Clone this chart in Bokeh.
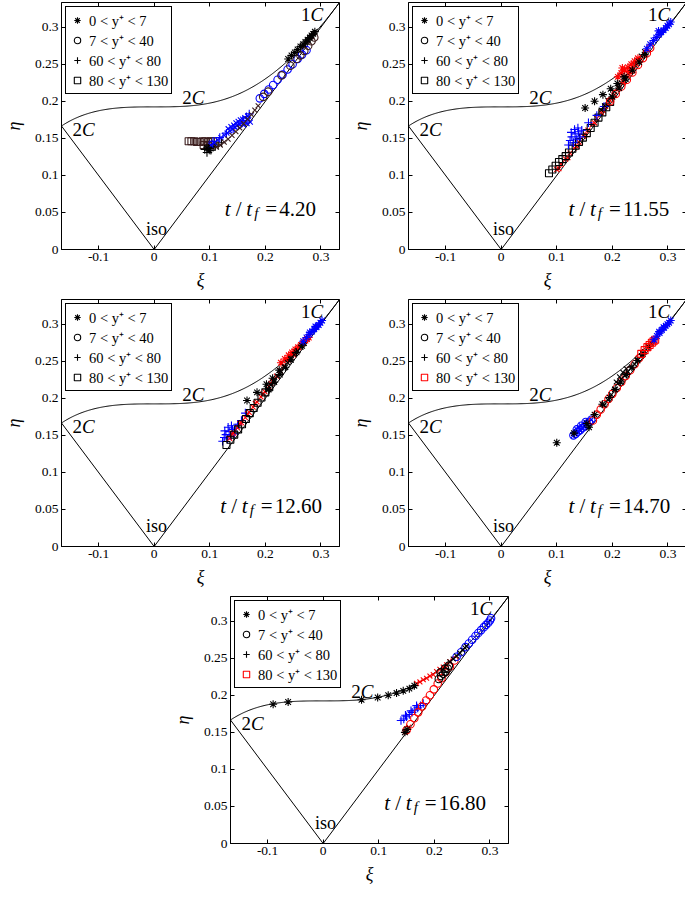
import numpy as np
from bokeh.plotting import figure
from bokeh.layouts import column, row
from bokeh.models import (Range1d, FixedTicker, CustomJSTickFormatter, LinearAxis, Label,
                          Legend, LegendItem, Spacer)
from bokeh.embed import file_html
from bokeh.resources import INLINE

FONT = "Liberation Serif"
BLUE, RED, BLACK, BROWN = "#0000ff", "#ff0000", "#000000", "#3c1e1e"

# ---------------- axes / labels ----------------
x_ticks = [-0.1, 0, 0.1, 0.2, 0.3]
y_ticks = [0, 0.05, 0.1, 0.15, 0.2, 0.25, 0.3]
legend_labels = ["0 < y⁺ < 7", "7 < y⁺ < 40", "60 < y⁺ < 80", "80 < y⁺ < 130"]
time_labels = ["4.20", "11.55", "12.60", "14.70", "16.80"]

# Lumley triangle boundaries (axisymmetric lines and two-component curve)
axi_xi = [-1/6, 0.0, 1/3]
axi_eta = [1/6, 0.0, 1/3]
curve_xi = np.linspace(-1/6, 1/3, 300)
curve_eta = np.sqrt(1/27 + 2 * curve_xi**3)

# ---------------- panel 1 : t/tf = 4.20 ----------------
p1_sq_xi = [0.062, 0.067, 0.072, 0.077, 0.082, 0.087, 0.092, 0.097, 0.102, 0.106, 0.089, 0.096, 0.101]
p1_sq_eta = [0.146, 0.146, 0.146, 0.145, 0.145, 0.146, 0.146, 0.145, 0.146, 0.146, 0.141, 0.140, 0.141]
p1_pk_xi = [0.091, 0.095, 0.098, 0.102, 0.106, 0.110, 0.115, 0.121]
p1_pk_eta = [0.135, 0.131, 0.137, 0.134, 0.138, 0.139, 0.141, 0.144]
p1_xb_xi = [0.102, 0.108, 0.114, 0.120, 0.126, 0.131, 0.136, 0.141, 0.145, 0.149, 0.153, 0.157, 0.161, 0.164, 0.167, 0.170, 0.173,
            0.133, 0.138, 0.143, 0.147, 0.151, 0.155, 0.159, 0.163, 0.168]
p1_xb_eta = [0.141, 0.144, 0.148, 0.151, 0.154, 0.157, 0.160, 0.162, 0.165, 0.167, 0.169, 0.171, 0.168, 0.173, 0.170, 0.175, 0.172,
             0.163, 0.166, 0.168, 0.171, 0.173, 0.175, 0.176, 0.178, 0.180]
p1_pb_xi = [0.106, 0.118, 0.130, 0.142, 0.152, 0.160, 0.166, 0.171]
p1_pb_eta = [0.146, 0.151, 0.157, 0.163, 0.168, 0.174, 0.179, 0.183]
p1_xk_xi = [0.112, 0.119, 0.126, 0.133, 0.140, 0.147, 0.154, 0.161, 0.168, 0.175, 0.181, 0.187, 0.270, 0.277, 0.284]
p1_xk_eta = [0.138, 0.141, 0.145, 0.149, 0.154, 0.159, 0.164, 0.170, 0.176, 0.182, 0.188, 0.194, 0.275, 0.281, 0.287]
p1_cb_xi = [0.190, 0.198, 0.206, 0.214, 0.222, 0.231, 0.240, 0.249, 0.258, 0.266, 0.274]
p1_cb_eta = [0.204, 0.210, 0.216, 0.222, 0.229, 0.236, 0.243, 0.250, 0.257, 0.263, 0.269]
p1_ck_xi = [0.196, 0.205, 0.229, 0.245, 0.256, 0.263, 0.270, 0.277, 0.283, 0.288]
p1_ck_eta = [0.206, 0.213, 0.235, 0.248, 0.257, 0.262, 0.268, 0.275, 0.281, 0.286]
p1_st_xi = [0.095, 0.099, 0.241, 0.247, 0.253, 0.258, 0.263, 0.268, 0.272, 0.276, 0.280, 0.283, 0.286, 0.289]
p1_st_eta = [0.137, 0.134, 0.257, 0.262, 0.266, 0.270, 0.274, 0.277, 0.280, 0.283, 0.286, 0.289, 0.291, 0.294]

# ---------------- panel 2 : t/tf = 11.55 ----------------
p2_xr_xi = [0.100, 0.108, 0.116, 0.124, 0.132, 0.140, 0.148, 0.156, 0.164, 0.172, 0.180, 0.188, 0.196, 0.204, 0.212, 0.220, 0.228, 0.236, 0.244, 0.252, 0.260,
            0.104, 0.120, 0.136, 0.152, 0.168, 0.184]
p2_xr_eta = [0.108, 0.115, 0.122, 0.130, 0.137, 0.145, 0.153, 0.161, 0.169, 0.177, 0.185, 0.193, 0.201, 0.209, 0.217, 0.225, 0.233, 0.241, 0.249, 0.257, 0.265,
             0.109, 0.124, 0.139, 0.155, 0.171, 0.187]
p2_sq_xi = [0.086, 0.092, 0.098, 0.104, 0.110, 0.116, 0.122, 0.128, 0.134, 0.140, 0.147, 0.154, 0.161, 0.168, 0.175, 0.182, 0.189, 0.196]
p2_sq_eta = [0.103, 0.108, 0.113, 0.118, 0.122, 0.126, 0.131, 0.136, 0.140, 0.145, 0.151, 0.157, 0.164, 0.171, 0.178, 0.185, 0.192, 0.199]
p2_pb_xi = [0.121, 0.124, 0.127, 0.130, 0.133, 0.136, 0.139, 0.142, 0.145, 0.126, 0.132, 0.138, 0.157, 0.172, 0.185]
p2_pb_eta = [0.141, 0.147, 0.152, 0.144, 0.156, 0.149, 0.159, 0.152, 0.161, 0.158, 0.162, 0.164, 0.171, 0.181, 0.193]
p2_xk_xi = [0.180, 0.186, 0.192, 0.198, 0.204, 0.210, 0.216, 0.222, 0.228, 0.234, 0.240, 0.246, 0.252, 0.258]
p2_xk_eta = [0.188, 0.194, 0.201, 0.207, 0.213, 0.219, 0.225, 0.231, 0.237, 0.243, 0.249, 0.255, 0.261, 0.267]
p2_cr_xi = [0.196, 0.206, 0.216, 0.226, 0.236, 0.246, 0.255, 0.262, 0.268]
p2_cr_eta = [0.200, 0.210, 0.220, 0.229, 0.239, 0.249, 0.258, 0.265, 0.272]
p2_sr_xi = [0.210, 0.216, 0.222, 0.228, 0.234, 0.240, 0.246, 0.218, 0.231]
p2_sr_eta = [0.233, 0.238, 0.242, 0.246, 0.250, 0.254, 0.258, 0.245, 0.240]
p2_sk_xi = [0.151, 0.168, 0.183, 0.197, 0.209, 0.221, 0.200, 0.212, 0.224, 0.236, 0.248, 0.258]
p2_sk_eta = [0.191, 0.200, 0.209, 0.217, 0.224, 0.233, 0.206, 0.218, 0.230, 0.242, 0.253, 0.263]
p2_sb_xi = [0.262, 0.268, 0.274, 0.279, 0.284, 0.288, 0.292, 0.296, 0.299, 0.302, 0.305, 0.283]
p2_sb_eta = [0.271, 0.277, 0.282, 0.286, 0.290, 0.293, 0.296, 0.299, 0.302, 0.304, 0.307, 0.295]

# ---------------- panel 3 : t/tf = 12.60 ----------------
p3_pb_xi = [0.123, 0.126, 0.129, 0.132, 0.135, 0.138, 0.141, 0.144, 0.147, 0.127, 0.133, 0.139, 0.150, 0.157, 0.164]
p3_pb_eta = [0.142, 0.147, 0.151, 0.145, 0.155, 0.149, 0.158, 0.152, 0.160, 0.156, 0.161, 0.163, 0.165, 0.170, 0.180]
p3_xr_xi = [0.136, 0.143, 0.150, 0.157, 0.164, 0.171, 0.178, 0.185, 0.192, 0.199, 0.206, 0.213, 0.220, 0.227, 0.234,
            0.140, 0.154, 0.168, 0.182, 0.196, 0.210]
p3_xr_eta = [0.146, 0.153, 0.160, 0.167, 0.174, 0.181, 0.188, 0.195, 0.202, 0.209, 0.216, 0.223, 0.230, 0.237, 0.244,
             0.152, 0.166, 0.179, 0.193, 0.206, 0.220]
p3_sq_xi = [0.130, 0.137, 0.144, 0.151, 0.158, 0.165, 0.172, 0.179, 0.186, 0.193, 0.200, 0.207]
p3_sq_eta = [0.137, 0.144, 0.151, 0.158, 0.165, 0.172, 0.180, 0.187, 0.194, 0.201, 0.208, 0.215]
p3_sr_xi = [0.228, 0.235, 0.242, 0.248, 0.254, 0.259, 0.264, 0.268, 0.272, 0.275, 0.278, 0.240, 0.250]
p3_sr_eta = [0.248, 0.253, 0.258, 0.262, 0.266, 0.269, 0.272, 0.275, 0.278, 0.280, 0.282, 0.252, 0.259]
p3_xk_xi = [0.204, 0.210, 0.216, 0.222, 0.228, 0.234, 0.240, 0.246, 0.252, 0.258, 0.264, 0.270]
p3_xk_eta = [0.212, 0.218, 0.224, 0.230, 0.236, 0.242, 0.248, 0.254, 0.259, 0.264, 0.269, 0.274]
p3_sk_xi = [0.167, 0.185, 0.202, 0.213, 0.225, 0.206, 0.216, 0.226, 0.236, 0.246, 0.256, 0.266]
p3_sk_eta = [0.197, 0.208, 0.219, 0.227, 0.238, 0.212, 0.222, 0.232, 0.242, 0.252, 0.262, 0.271]
p3_sb_xi = [0.268, 0.274, 0.279, 0.284, 0.288, 0.292, 0.296, 0.299, 0.302, 0.280, 0.290]
p3_sb_eta = [0.277, 0.282, 0.286, 0.290, 0.293, 0.296, 0.299, 0.302, 0.305, 0.289, 0.297]

# ---------------- panel 4 : t/tf = 14.70 ----------------
p4_cb_xi = [0.130, 0.134, 0.138, 0.142, 0.146, 0.150, 0.154, 0.158, 0.162, 0.136, 0.144, 0.152]
p4_cb_eta = [0.150, 0.152, 0.155, 0.157, 0.160, 0.162, 0.165, 0.168, 0.171, 0.158, 0.163, 0.168]
p4_cr_xi = [0.165, 0.172, 0.179, 0.186, 0.193, 0.200, 0.208, 0.216, 0.224, 0.232, 0.240, 0.248]
p4_cr_eta = [0.170, 0.178, 0.185, 0.192, 0.199, 0.206, 0.214, 0.222, 0.230, 0.238, 0.246, 0.254]
p4_xk_xi = [0.185, 0.192, 0.198, 0.204, 0.210, 0.216, 0.222, 0.228, 0.234, 0.240, 0.246, 0.252, 0.258, 0.264, 0.270,
            0.207, 0.213, 0.219, 0.225]
p4_xk_eta = [0.191, 0.198, 0.205, 0.212, 0.220, 0.226, 0.231, 0.236, 0.241, 0.246, 0.252, 0.257, 0.263, 0.269, 0.274,
             0.222, 0.229, 0.235, 0.240]
p4_sk_xi = [0.100, 0.131, 0.154, 0.158, 0.168, 0.182, 0.195, 0.205, 0.215, 0.225, 0.235, 0.245, 0.255, 0.265]
p4_sk_eta = [0.140, 0.153, 0.166, 0.161, 0.178, 0.192, 0.201, 0.212, 0.222, 0.232, 0.242, 0.251, 0.260, 0.270]
p4_qr_xi = [0.252, 0.258, 0.263, 0.267, 0.271, 0.274, 0.277]
p4_qr_eta = [0.260, 0.265, 0.269, 0.272, 0.275, 0.277, 0.279]
p4_sb_xi = [0.275, 0.280, 0.285, 0.289, 0.293, 0.296, 0.299, 0.302, 0.305, 0.284, 0.292]
p4_sb_eta = [0.279, 0.284, 0.288, 0.292, 0.295, 0.298, 0.300, 0.302, 0.305, 0.290, 0.296]

# ---------------- panel 5 : t/tf = 16.80 ----------------
p5_pb_xi = [0.140, 0.145, 0.150, 0.155, 0.160, 0.165, 0.170, 0.175, 0.180, 0.148, 0.158, 0.168]
p5_pb_eta = [0.166, 0.168, 0.171, 0.174, 0.177, 0.180, 0.183, 0.186, 0.189, 0.173, 0.179, 0.186]
p5_cr_xi = [0.150, 0.157, 0.164, 0.171, 0.178, 0.185, 0.192, 0.199, 0.206, 0.213, 0.220, 0.228, 0.236]
p5_cr_eta = [0.153, 0.161, 0.169, 0.177, 0.185, 0.193, 0.200, 0.208, 0.216, 0.223, 0.231, 0.239, 0.247]
p5_cb_xi = [0.240, 0.248, 0.256, 0.262, 0.268, 0.274, 0.279, 0.284, 0.289, 0.293, 0.297, 0.300, 0.302]
p5_cb_eta = [0.252, 0.258, 0.265, 0.270, 0.275, 0.280, 0.284, 0.288, 0.292, 0.295, 0.298, 0.301, 0.304]
p5_xr_xi = [0.148, 0.154, 0.168, 0.174, 0.180, 0.186, 0.192, 0.198, 0.204, 0.210, 0.216, 0.222, 0.228]
p5_xr_eta = [0.151, 0.157, 0.216, 0.218, 0.221, 0.223, 0.226, 0.228, 0.232, 0.235, 0.238, 0.241, 0.245]
p5_xk_xi = [0.228, 0.234, 0.240, 0.246, 0.251, 0.255, 0.258]
p5_xk_eta = [0.245, 0.249, 0.253, 0.257, 0.261, 0.264, 0.266]
p5_ck_xi = [0.208, 0.212, 0.216, 0.220, 0.224, 0.211, 0.219, 0.226]
p5_ck_eta = [0.222, 0.226, 0.229, 0.232, 0.236, 0.231, 0.236, 0.240]
p5_sk_xi = [-0.090, -0.063, 0.069, 0.098, 0.117, 0.132, 0.144, 0.155, 0.164, 0.147, 0.151]
p5_sk_eta = [0.188, 0.191, 0.194, 0.197, 0.200, 0.203, 0.206, 0.209, 0.213, 0.150, 0.154]

panels = [
    [(p1_sq_xi, p1_sq_eta, "square", BROWN), (p1_pk_xi, p1_pk_eta, "cross", BLACK),
     (p1_xb_xi, p1_xb_eta, "x", BLUE), (p1_pb_xi, p1_pb_eta, "cross", BLUE),
     (p1_xk_xi, p1_xk_eta, "x", BROWN), (p1_cb_xi, p1_cb_eta, "circle", BLUE),
     (p1_ck_xi, p1_ck_eta, "circle", BROWN), (p1_st_xi, p1_st_eta, "asterisk", BLACK)],
    [(p2_xr_xi, p2_xr_eta, "x", RED), (p2_sq_xi, p2_sq_eta, "square", BLACK),
     (p2_pb_xi, p2_pb_eta, "cross", BLUE), (p2_xk_xi, p2_xk_eta, "x", BLACK),
     (p2_cr_xi, p2_cr_eta, "circle", RED), (p2_sr_xi, p2_sr_eta, "asterisk", RED),
     (p2_sk_xi, p2_sk_eta, "asterisk", BLACK), (p2_sb_xi, p2_sb_eta, "asterisk", BLUE)],
    [(p3_pb_xi, p3_pb_eta, "cross", BLUE), (p3_xr_xi, p3_xr_eta, "x", RED),
     (p3_sq_xi, p3_sq_eta, "square", BLACK), (p3_sr_xi, p3_sr_eta, "asterisk", RED),
     (p3_xk_xi, p3_xk_eta, "x", BLACK), (p3_sk_xi, p3_sk_eta, "asterisk", BLACK),
     (p3_sb_xi, p3_sb_eta, "asterisk", BLUE)],
    [(p4_cb_xi, p4_cb_eta, "circle", BLUE), (p4_cb_xi, p4_cb_eta, "x", BLUE),
     (p4_cr_xi, p4_cr_eta, "circle", RED), (p4_xk_xi, p4_xk_eta, "x", BLACK),
     (p4_sk_xi, p4_sk_eta, "asterisk", BLACK), (p4_qr_xi, p4_qr_eta, "square", RED),
     (p4_sb_xi, p4_sb_eta, "asterisk", BLUE)],
    [(p5_pb_xi, p5_pb_eta, "cross", BLUE), (p5_cr_xi, p5_cr_eta, "circle", RED),
     (p5_cb_xi, p5_cb_eta, "circle", BLUE), (p5_xr_xi, p5_xr_eta, "x", RED),
     (p5_xk_xi, p5_xk_eta, "x", BLACK), (p5_ck_xi, p5_ck_eta, "circle", BLACK),
     (p5_sk_xi, p5_sk_eta, "asterisk", BLACK)],
]
legend_square_colors = [BLACK, BLACK, BLACK, RED, RED]
time_x = [0.126, 0.120, 0.118, 0.120, 0.109]
border_left = [48, 52, 48, 52, 48]
border_right = [8, 5, 8, 5, 5]

SIZES = {"asterisk": 8, "circle": 7.5, "cross": 8.5, "square": 7, "x": 7}
FMT = "var s = tick.toFixed(2); s = s.replace(/0+$/, ''); s = s.replace(/\\.$/, ''); return s;"


def put(p, x, y, text, size, style="normal", align="center", baseline="middle", dx=0, dy=0):
    p.add_layout(Label(x=x, y=y, text=text, text_font=FONT, text_font_size=f"{size}px",
                       text_font_style=style, text_align=align, text_baseline=baseline,
                       x_offset=dx, y_offset=dy, text_color="black"))


def make_panel(i):
    p = figure(frame_width=278, frame_height=247,
               x_range=Range1d(-1/6, 1/3), y_range=Range1d(0, 1/3),
               output_backend="svg", toolbar_location=None,
               min_border_left=border_left[i], min_border_right=border_right[i],
               min_border_top=2, min_border_bottom=48,
               background_fill_color="white", border_fill_color="white")
    p.grid.visible = False
    p.outline_line_color = "black"
    p.outline_line_width = 1
    p.outline_line_alpha = 1
    for ax, ticks in ((p.xaxis[0], x_ticks), (p.yaxis[0], y_ticks)):
        ax.ticker = FixedTicker(ticks=ticks)
        ax.formatter = CustomJSTickFormatter(code=FMT)
        ax.major_tick_in = 4
        ax.major_tick_out = 0
        ax.minor_tick_line_color = None
        ax.major_label_text_font = FONT
        ax.major_label_text_font_size = "13.5px"
        ax.major_label_text_color = "black"
        ax.axis_label_text_font = FONT
        ax.axis_label_text_font_style = "italic"
        ax.axis_label_text_font_size = "18px"
        ax.axis_label_text_color = "black"
        ax.major_label_standoff = 3
    p.xaxis[0].axis_label_standoff = 6
    p.yaxis[0].axis_label_standoff = 8
    p.xaxis[0].axis_label = "ξ"
    p.yaxis[0].axis_label = "η"
    for loc, ticks in (("above", x_ticks), ("right", y_ticks)):
        ax = LinearAxis(ticker=FixedTicker(ticks=ticks),
                        formatter=CustomJSTickFormatter(code="return ''"),
                        major_tick_in=4, major_tick_out=0, minor_tick_line_color=None,
                        major_label_text_font_size="0px", major_label_standoff=0,
                        axis_line_color=None)
        p.add_layout(ax, loc)

    # boundaries of the anisotropy-invariant map
    p.line(axi_xi, axi_eta, line_color="black", line_width=1)
    p.line(curve_xi, curve_eta, line_color="black", line_width=1)

    for xs, ys, marker, color in panels[i]:
        p.scatter(xs, ys, marker=marker, size=SIZES[marker], line_color=color,
                  fill_color=None, line_width=1.1)

    # legend (reference symbols; NaN position keeps them off the plot area)
    leg_markers = ["asterisk", "circle", "cross", "square"]
    leg_colors = [BLACK, BLACK, BLACK, legend_square_colors[i]]
    items = []
    for lab, m, c in zip(legend_labels, leg_markers, leg_colors):
        r = p.scatter([np.nan], [np.nan], marker=m, size=7, line_color=c,
                      fill_color=None, line_width=1.1)
        items.append(LegendItem(label=lab, renderers=[r]))
    legend = Legend(items=items, location="top_left", margin=4, padding=3, spacing=0,
                    glyph_width=16, glyph_height=16, label_height=16, label_standoff=4,
                    label_text_font=FONT, label_text_font_size="14.5px", label_text_color="black",
                    border_line_color="black", border_line_width=1, border_line_alpha=1,
                    background_fill_color="white", background_fill_alpha=1)
    p.add_layout(legend)

    # region labels
    put(p, 0.281, 0.317, "1", 19, align="right")
    put(p, 0.281, 0.317, "C", 19, "italic", align="left")
    put(p, 0.0675, 0.2045, "2", 19, align="right")
    put(p, 0.0675, 0.2045, "C", 19, "italic", align="left")
    put(p, -0.130, 0.1617, "2", 19, align="right")
    put(p, -0.130, 0.1617, "C", 19, "italic", align="left")
    put(p, 0.004, 0.0274, "iso", 18)

    # t/t_f = value
    tx, ty = time_x[i], 0.054
    put(p, tx, ty, "t", 21, "italic", baseline="alphabetic", dx=3.5)
    put(p, tx, ty, "/", 21, "normal", baseline="alphabetic", dx=14.5)
    put(p, tx, ty, "t", 21, "italic", baseline="alphabetic", dx=25)
    put(p, tx, ty, "f", 15, "italic", baseline="alphabetic", dx=32, dy=-4)
    put(p, tx, ty, "=", 21, "normal", baseline="alphabetic", dx=47)
    put(p, tx, ty, time_labels[i], 21, "normal", align="left", baseline="alphabetic", dx=55)
    return p


figs = [make_panel(i) for i in range(5)]
layout = column(row(figs[0], figs[1]), row(figs[2], figs[3]),
                row(Spacer(width=169, height=10), figs[4]))

open("out.html", "w").write(file_html(layout, INLINE))
